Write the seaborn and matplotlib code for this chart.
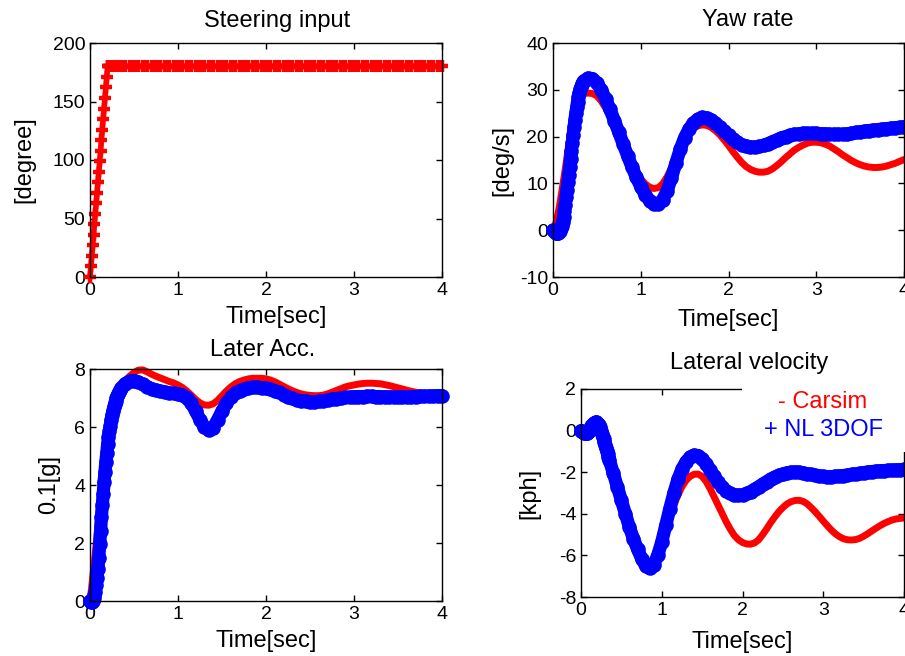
import matplotlib
matplotlib.use("Agg")
import matplotlib.pyplot as plt
import seaborn as sns
from matplotlib.patches import Rectangle

# shared time base [sec]: 0.01 s steps through the start transient, 0.05 s after
t = [0.00, 0.01, 0.02, 0.03, 0.04, 0.05, 0.06, 0.07, 0.08, 0.09,
     0.10, 0.11, 0.12, 0.13, 0.14, 0.15, 0.16, 0.17, 0.18, 0.19,
     0.20, 0.21, 0.22, 0.23, 0.24, 0.25, 0.26, 0.27, 0.28, 0.29,
     0.30, 0.31, 0.32, 0.33, 0.34, 0.35,
     0.40, 0.45, 0.50, 0.55, 0.60, 0.65, 0.70, 0.75, 0.80, 0.85,
     0.90, 0.95, 1.00, 1.05, 1.10, 1.15, 1.20, 1.25, 1.30, 1.35,
     1.40, 1.45, 1.50, 1.55, 1.60, 1.65, 1.70, 1.75, 1.80, 1.85,
     1.90, 1.95, 2.00, 2.05, 2.10, 2.15, 2.20, 2.25, 2.30, 2.35,
     2.40, 2.45, 2.50, 2.55, 2.60, 2.65, 2.70, 2.75, 2.80, 2.85,
     2.90, 2.95, 3.00, 3.05, 3.10, 3.15, 3.20, 3.25, 3.30, 3.35,
     3.40, 3.45, 3.50, 3.55, 3.60, 3.65, 3.70, 3.75, 3.80, 3.85,
     3.90, 3.95, 4.00]

# steering wheel angle [degree]
steer = [0, 9, 18, 27, 36, 45, 54, 63, 72, 81,
         90, 99, 108, 117, 126, 135, 144, 153, 162, 171,
         180, 180, 180, 180, 180, 180, 180, 180, 180, 180,
         180, 180, 180, 180, 180, 180,
         180, 180, 180, 180, 180, 180, 180, 180, 180, 180,
         180, 180, 180, 180, 180, 180, 180, 180, 180, 180,
         180, 180, 180, 180, 180, 180, 180, 180, 180, 180,
         180, 180, 180, 180, 180, 180, 180, 180, 180, 180,
         180, 180, 180, 180, 180, 180, 180, 180, 180, 180,
         180, 180, 180, 180, 180, 180, 180, 180, 180, 180,
         180, 180, 180, 180, 180, 180, 180, 180, 180, 180,
         180, 180, 180]

# yaw rate [deg/s]
yaw_carsim = [0.0, 0.3, 0.8, 1.4, 2.1, 2.9, 3.8, 4.8, 5.9, 7.0,
              8.2, 9.4, 10.6, 11.8, 13.1, 14.4, 15.7, 17.0, 18.3, 19.6,
              20.8, 22.0, 23.1, 24.1, 25.0, 25.8, 26.5, 27.1, 27.6, 28.0,
              28.3, 28.6, 28.8, 29.0, 29.1, 29.2,
              29.3, 29.2, 28.7, 27.6, 26.1, 24.3, 22.3, 20.2, 18.1, 16.0,
              14.1, 12.4, 11.0, 9.9, 9.2, 8.9, 9.1, 9.9, 11.4, 13.3,
              15.4, 17.5, 19.3, 20.7, 21.7, 22.3, 22.5, 22.4, 22.0, 21.3,
              20.4, 19.3, 18.1, 16.8, 15.6, 14.5, 13.6, 13.0, 12.6, 12.4,
              12.4, 12.6, 13.1, 13.8, 14.6, 15.5, 16.3, 17.1, 17.7, 18.2,
              18.6, 18.8, 18.8, 18.7, 18.4, 18.0, 17.4, 16.8, 16.1, 15.5,
              14.9, 14.4, 14.0, 13.7, 13.5, 13.4, 13.4, 13.5, 13.7, 14.0,
              14.3, 14.7, 15.1]
yaw_3dof = [0.0, -0.2, -0.4, -0.6, -0.7, -0.7, -0.6, -0.4, -0.1, 0.4,
            1.0, 1.8, 2.8, 4.0, 5.4, 7.0, 8.6, 10.2, 11.9, 13.6,
            15.3, 17.0, 18.7, 20.4, 22.0, 23.6, 25.0, 26.3, 27.5, 28.5,
            29.4, 30.1, 30.7, 31.2, 31.6, 31.9,
            32.5, 32.4, 31.5, 30.0, 28.0, 25.8, 23.4, 20.9, 18.4, 15.9,
            13.5, 11.3, 9.3, 7.6, 6.3, 5.6, 5.6, 6.5, 8.4, 11.2,
            14.3, 17.3, 19.8, 21.6, 22.9, 23.7, 24.1, 24.0, 23.6, 22.9,
            22.1, 21.2, 20.3, 19.5, 18.8, 18.3, 18.0, 17.8, 17.8, 17.9,
            18.1, 18.5, 18.9, 19.3, 19.7, 20.0, 20.3, 20.5, 20.6, 20.7,
            20.7, 20.7, 20.7, 20.6, 20.6, 20.5, 20.5, 20.5, 20.5, 20.6,
            20.7, 20.9, 21.0, 21.2, 21.3, 21.4, 21.5, 21.6, 21.7, 21.8,
            21.9, 22.0, 22.1]

# lateral acceleration [0.1 g]
acc_carsim = [0.0, 0.25, 0.5, 0.8, 1.05, 1.35, 1.65, 1.95, 2.25, 2.6,
              2.95, 3.3, 3.65, 4.0, 4.35, 4.65, 4.9, 5.15, 5.4, 5.65,
              5.85, 6.0, 6.15, 6.3, 6.45, 6.6, 6.7, 6.8, 6.9, 7.0,
              7.1, 7.15, 7.2, 7.28, 7.33, 7.4,
              7.6, 7.75, 7.88, 7.96, 7.97, 7.9, 7.82, 7.75, 7.69, 7.63,
              7.57, 7.52, 7.45, 7.36, 7.24, 7.1, 6.95, 6.83, 6.76, 6.75,
              6.8, 6.92, 7.08, 7.24, 7.38, 7.49, 7.57, 7.62, 7.66, 7.68,
              7.68, 7.68, 7.66, 7.62, 7.56, 7.48, 7.40, 7.32, 7.25, 7.19,
              7.14, 7.11, 7.09, 7.08, 7.08, 7.10, 7.14, 7.2, 7.26, 7.32,
              7.38, 7.42, 7.45, 7.48, 7.5, 7.51, 7.51, 7.5, 7.49, 7.46,
              7.43, 7.39, 7.35, 7.31, 7.27, 7.23, 7.2, 7.17, 7.14, 7.12,
              7.1, 7.09, 7.08]
acc_3dof = [0.0, -0.05, -0.05, 0.0, 0.1, 0.2, 0.3, 0.55, 0.8, 1.1,
            1.5, 1.95, 2.4, 2.9, 3.3, 3.7, 4.1, 4.45, 4.8, 5.1,
            5.4, 5.65, 5.85, 6.05, 6.25, 6.4, 6.55, 6.68, 6.8, 6.9,
            7.0, 7.08, 7.15, 7.22, 7.28, 7.33,
            7.5, 7.58, 7.6, 7.55, 7.47, 7.39, 7.32, 7.27, 7.23, 7.2,
            7.18, 7.16, 7.14, 7.1, 7.0, 6.82, 6.55, 6.25, 6.0, 5.88,
            5.98, 6.25, 6.55, 6.82, 7.02, 7.16, 7.25, 7.31, 7.35, 7.37,
            7.37, 7.36, 7.34, 7.3, 7.25, 7.19, 7.12, 7.05, 6.99, 6.94,
            6.9, 6.88, 6.87, 6.87, 6.88, 6.9, 6.93, 6.96, 6.98, 7.0,
            7.02, 7.03, 7.04, 7.05, 7.05, 7.06, 7.06, 7.05, 7.05, 7.04,
            7.04, 7.04, 7.04, 7.04, 7.04, 7.05, 7.05, 7.06, 7.06, 7.07,
            7.07, 7.08, 7.08]

# lateral velocity [kph]
vel_carsim = [0.0, -0.02, -0.04, -0.07, -0.09, -0.1, -0.1, -0.09, -0.06, -0.02,
              0.03, 0.09, 0.15, 0.21, 0.26, 0.3, 0.33, 0.35, 0.35, 0.33,
              0.29, 0.23, 0.15, 0.06, -0.05, -0.17, -0.3, -0.43, -0.57, -0.71,
              -0.85, -0.99, -1.13, -1.27, -1.41, -1.55,
              -2.2, -2.85, -3.5, -4.15, -4.75, -5.3, -5.8, -6.2, -6.55, -6.68,
              -6.55, -6.1, -5.5, -4.85, -4.2, -3.6, -3.1, -2.7, -2.4, -2.2,
              -2.1, -2.09, -2.2, -2.45, -2.8, -3.2, -3.6, -4.0, -4.4, -4.75,
              -5.05, -5.25, -5.38, -5.45, -5.46, -5.4, -5.25, -5.0, -4.72, -4.42,
              -4.15, -3.9, -3.7, -3.53, -3.42, -3.36, -3.35, -3.4, -3.52, -3.7,
              -3.9, -4.12, -4.35, -4.57, -4.78, -4.96, -5.1, -5.2, -5.25, -5.26,
              -5.24, -5.18, -5.08, -4.96, -4.83, -4.7, -4.58, -4.47, -4.38, -4.3,
              -4.25, -4.22, -4.2]
vel_3dof = [0.0, -0.02, -0.05, -0.08, -0.1, -0.12, -0.13, -0.12, -0.1, -0.05,
            0.0, 0.06, 0.13, 0.2, 0.26, 0.31, 0.35, 0.38, 0.4, 0.4,
            0.38, 0.33, 0.26, 0.17, 0.07, -0.04, -0.16, -0.29, -0.42, -0.56,
            -0.7, -0.84, -0.98, -1.12, -1.26, -1.4,
            -2.05, -2.7, -3.35, -4.0, -4.65, -5.2, -5.7, -6.15, -6.5, -6.62,
            -6.45, -6.0, -5.35, -4.55, -3.75, -3.0, -2.35, -1.85, -1.5, -1.28,
            -1.18, -1.2, -1.35, -1.6, -1.9, -2.2, -2.48, -2.72, -2.9, -3.02,
            -3.08, -3.1, -3.08, -3.02, -2.93, -2.82, -2.7, -2.57, -2.45, -2.33,
            -2.23, -2.15, -2.08, -2.03, -2.0, -1.99, -2.0, -2.03, -2.07, -2.11,
            -2.15, -2.18, -2.2, -2.21, -2.21, -2.2, -2.18, -2.16, -2.14, -2.11,
            -2.08, -2.05, -2.02, -1.99, -1.97, -1.95, -1.93, -1.92, -1.91, -1.9,
            -1.89, -1.88, -1.87]

for s in (steer, yaw_carsim, yaw_3dof, acc_carsim, acc_3dof, vel_carsim, vel_3dof):
    assert len(s) == len(t), len(s)

sns.set_style("ticks")
plt.rcParams["font.family"] = ["Liberation Sans", "DejaVu Sans"]
plt.rcParams.update({
    "axes.edgecolor": "black",
    "axes.linewidth": 1.0,
    "axes.unicode_minus": False,
    "xtick.color": "black",
    "ytick.color": "black",
    "text.color": "black",
    "axes.labelcolor": "black",
})

W, H = 905, 656
fig = plt.figure(figsize=(W / 100, H / 100), dpi=100)


def px_axes(left, top, right, bottom):
    # axes box given in pixel coords of the target picture
    return fig.add_axes([left / W, 1 - bottom / H, (right - left) / W, (bottom - top) / H])


def carsim(ax, y):
    sns.lineplot(x=t, y=y, ax=ax, color="red", lw=5, clip_on=False)


def nl3dof(ax, y):
    # thick line under round markers -> the dotted band of the original
    sns.lineplot(x=t, y=y, ax=ax, color="blue", lw=9.5, marker="o",
                 markersize=10.5, markeredgewidth=0, markeredgecolor="blue",
                 solid_capstyle="round", solid_joinstyle="round", clip_on=False)


def style(ax, ylim, yticks, title, tpos, ylabel, ylx, xly):
    ax.set_xlim(0, 4)
    ax.set_ylim(*ylim)
    ax.set_xticks([0, 1, 2, 3, 4])
    ax.set_yticks(yticks)
    ax.tick_params(direction="in", top=True, right=True, length=4, width=1,
                   labelsize=14, pad=3.5)
    for sp in ax.spines.values():
        sp.set_visible(True)
    ax.set_title(title, fontsize=17, x=tpos[0], y=tpos[1], pad=0)
    ax.set_ylabel(ylabel, fontsize=17)
    ax.yaxis.set_label_coords(ylx, 0.5)
    ax.set_xlabel("Time[sec]", fontsize=17)
    ax.xaxis.set_label_coords(0.5 if xly[0] is None else xly[0], xly[1])


# Steering input
ax1 = px_axes(90, 43, 442, 277)
sns.lineplot(x=t, y=steer, ax=ax1, color="red", lw=4, marker="+", markersize=9,
             markeredgewidth=3.2, markeredgecolor="red", clip_on=False)
style(ax1, (0, 200), [0, 50, 100, 150, 200], "Steering input", (0.531, 1.07),
      "[degree]", -0.156, (0.53, -0.125))

# Yaw rate
ax2 = px_axes(553, 43, 904, 277)
carsim(ax2, yaw_carsim)
nl3dof(ax2, yaw_3dof)
style(ax2, (-10, 40), [-10, 0, 10, 20, 30, 40], "Yaw rate", (0.554, 1.073),
      "[deg/s]", -0.114, (None, -0.138))

# Lateral acceleration
ax3 = px_axes(90, 369, 442, 601)
carsim(ax3, acc_carsim)
nl3dof(ax3, acc_3dof)
style(ax3, (0, 8), [0, 2, 4, 6, 8], "Later Acc.", (0.489, 1.057),
      "0.1[g]", -0.085, (None, -0.126))

# Lateral velocity
ax4 = px_axes(581, 389, 904, 597)
carsim(ax4, vel_carsim)
nl3dof(ax4, vel_3dof)
style(ax4, (-8, 2), [-8, -6, -4, -2, 0, 2], "Lateral velocity", (0.519, 1.096),
      "[kph]", -0.127, (None, -0.165))

# white legend box laid over the top right corner of the last panel
fig.add_artist(Rectangle((742 / W, 1 - 452 / H), (W + 10 - 742) / W, (452 - 378) / H,
                         transform=fig.transFigure, facecolor="white",
                         edgecolor="none", zorder=10))
fig.text(823 / W, 1 - 402 / H, "- Carsim", color="red", fontsize=17,
         ha="center", va="center", zorder=11)
fig.text(823 / W, 1 - 430 / H, "+ NL 3DOF", color="blue", fontsize=17,
         ha="center", va="center", zorder=11)

fig.savefig("out.png", dpi=100, facecolor="white")
